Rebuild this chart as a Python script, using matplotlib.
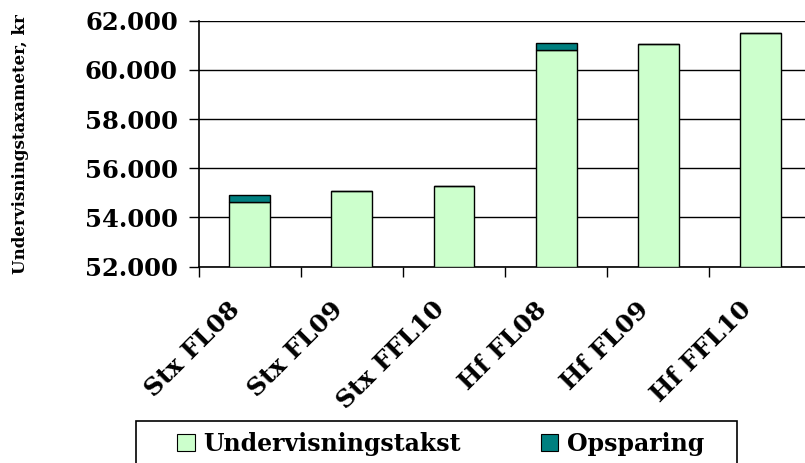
import numpy as np
import matplotlib.pyplot as plt
import matplotlib.transforms as mtransforms
from matplotlib.patches import Rectangle, Patch

# data
cats = ['Stx FL08', 'Stx FL09', 'Stx FFL10', 'Hf FL08', 'Hf FL09', 'Hf FFL10']
undervisning = [54640, 55065, 55270, 60800, 61050, 61490]
opsparing = [275, 0, 0, 290, 0, 0]
yticks = [52000, 54000, 56000, 58000, 60000, 62000]
ytick_labels = ['52.000', '54.000', '56.000', '58.000', '60.000', '62.000']

light_green = '#CCFFCC'
teal = '#008080'
plt.rcParams['font.family'] = ['DejaVu Serif']
plt.rcParams['font.weight'] = 'bold'

fig = plt.figure(figsize=(8.05, 4.63), dpi=100)
ax = fig.add_axes([0.2467, 0.424, 0.7615, 0.5313])

x = np.arange(len(cats))
ax.bar(x, np.array(undervisning) - 52000, bottom=52000, width=0.4,
       color=light_green, edgecolor='black', linewidth=1, zorder=3)
ax.bar(x, opsparing, bottom=undervisning, width=0.4,
       color=teal, edgecolor='black', linewidth=1, zorder=3)

ax.set_xlim(-0.5, 5.5)
ax.set_ylim(52000, 62000)
ax.set_yticks(yticks)
ax.set_yticklabels(ytick_labels, fontsize=17.5, fontweight='bold')
ax.yaxis.grid(True, color='black', linewidth=1, zorder=0)
ax.set_axisbelow(True)

ax.set_xticks(np.arange(-0.5, 6, 1))
ax.set_xticklabels([])
ax.set_xticks(x, minor=True)
ax.set_xticklabels(cats, minor=True, rotation=45, ha='right', va='center',
                   rotation_mode='anchor', fontsize=18, fontweight='bold')
ax.tick_params(axis='x', which='minor', length=0, pad=28)
ax.tick_params(axis='x', which='major', length=7, width=1)
ax.tick_params(axis='y', length=7, width=1, pad=8)
shift = mtransforms.ScaledTranslation(-13 / 100, 0, fig.dpi_scale_trans)
for lab in ax.get_xticklabels(minor=True):
    lab.set_transform(lab.get_transform() + shift)

for s in ['top', 'right']:
    ax.spines[s].set_visible(False)
for s in ['left', 'bottom']:
    ax.spines[s].set_linewidth(1.2)

ax.set_ylabel('Undervisningstaxameter, kr', fontsize=12, fontweight='bold')
ax.yaxis.set_label_coords(-0.276, 0.5)

# legend with its own frame, clipped at the bottom like the reference
fig.patches.append(Rectangle((136 / 805, -0.05), (737 - 136) / 805, 0.05 + 1 - 421 / 463,
                             transform=fig.transFigure, fill=False,
                             edgecolor='black', linewidth=1.2))
handles = [Patch(facecolor=light_green, edgecolor='black', linewidth=0.8),
           Patch(facecolor=teal, edgecolor='black', linewidth=0.8)]
fig.legend(handles, ['Undervisningstakst', 'Opsparing'], ncol=2, frameon=False,
           loc='center left', bbox_to_anchor=(177 / 805, 1 - 444 / 463),
           prop={'family': 'DejaVu Serif', 'weight': 'bold', 'size': 17},
           handlelength=0.75, handleheight=0.75, handletextpad=0.35,
           columnspacing=3.4, borderpad=0, borderaxespad=0)

fig.savefig('out.png', dpi=100)
